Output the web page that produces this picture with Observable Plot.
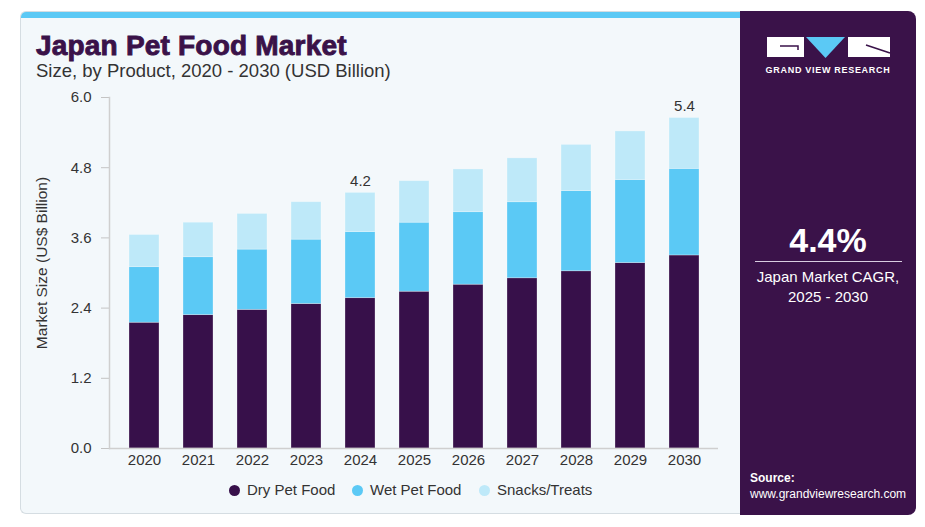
<!DOCTYPE html>
<html><head><meta charset="utf-8">
<script src="https://cdn.jsdelivr.net/npm/d3@7"></script>
<script src="https://cdn.jsdelivr.net/npm/@observablehq/plot@0.6"></script>
<style>
html,body{margin:0;padding:0;background:#fff;width:925px;height:527px;overflow:hidden;font-family:"Liberation Sans",Arial,sans-serif;}
#card{position:absolute;left:20px;top:11px;width:720px;height:503px;background:#f3f8fb;border:1px solid #d5dde2;border-right:none;border-radius:6px 0 0 6px;box-sizing:border-box;overflow:hidden;}
#strip{position:absolute;left:0;top:0;width:100%;height:6px;background:#5bc9f5;}
#side{position:absolute;left:740px;top:11px;width:176px;height:504px;background:#3a1249;border-radius:0 8px 8px 0;color:#fff;}
#title{position:absolute;left:36px;top:30px;font-size:28px;font-weight:700;color:#3a1249;-webkit-text-stroke:0.9px #3a1249;letter-spacing:0.2px;}
#subtitle{position:absolute;left:36px;top:60px;font-size:18.5px;color:#333;}
#chart{position:absolute;left:20px;top:85px;}
#legend{position:absolute;left:0;top:481px;width:925px;font-size:15px;color:#333;}
.li{position:absolute;top:0;white-space:nowrap;}
.dot{display:inline-block;width:11px;height:11px;border-radius:50%;margin-right:7px;vertical-align:-1px;}
#ylab{position:absolute;left:42px;top:263px;transform:translate(-50%,-50%) rotate(-90deg);font-size:15.5px;color:#333;white-space:nowrap;}
</style></head>
<body>
<div id="card"><div id="strip"></div></div>
<div id="side">
  <svg width="176" height="80" style="position:absolute;left:0;top:0">
    <path d="M27 26 H64 V46 H27 Z" fill="#fff" stroke="none"/>
    <path d="M40 35 H58 V39" fill="none" stroke="#3a1249" stroke-width="1.5"/>
    <path d="M66 26 H105 L85.5 47 Z" fill="#5bc9f5"/>
    <path d="M108 26 H150 V46 H108 Z" fill="#fff"/>
    <path d="M126 34 L150 42" fill="none" stroke="#3a1249" stroke-width="1.5"/>
    <text x="88" y="62" text-anchor="middle" fill="#fff" font-size="9" font-weight="700" letter-spacing="0.7" font-family="'Liberation Sans',sans-serif">GRAND VIEW RESEARCH</text>
  </svg>
  <div style="position:absolute;left:0;width:176px;top:210px;text-align:center;font-size:34px;font-weight:700;">4.4%</div>
  <div style="position:absolute;left:15px;width:147px;top:250px;height:1px;background:#d8cde0;"></div>
  <div style="position:absolute;left:0;width:176px;top:256px;text-align:center;font-size:15px;line-height:20px;">Japan Market CAGR,<br>2025 - 2030</div>
  <div style="position:absolute;left:10px;top:460px;font-size:12px;font-weight:700;">Source:</div>
  <div style="position:absolute;left:10px;top:476px;font-size:12px;">www.grandviewresearch.com</div>
</div>
<div id="title">Japan Pet Food Market</div>
<div id="subtitle">Size, by Product, 2020 - 2030 (USD Billion)</div>
<div id="ylab">Market Size (US$ Billion)</div>
<div id="chart"></div>
<div id="legend"></div>
<script>
const years = ["2020","2021","2022","2023","2024","2025","2026","2027","2028","2029","2030"];
const dryPetFood = [2.15,2.28,2.37,2.47,2.57,2.68,2.80,2.91,3.03,3.17,3.30];
const wetPetFood = [0.95,0.99,1.03,1.10,1.13,1.18,1.24,1.30,1.37,1.42,1.48];
const snacksTreats = [0.55,0.59,0.61,0.64,0.67,0.71,0.73,0.75,0.79,0.83,0.87];
const segments = ["Dry Pet Food","Wet Pet Food","Snacks/Treats"];
const colors = ["#37104a","#5bc9f5","#bee9f9"];
const yTicks = [0,1.2,2.4,3.6,4.8,6.0];
const labelYears = ["2024","2030"];
const labelTexts = ["4.2","5.4"];

const series = [dryPetFood, wetPetFood, snacksTreats];
const rows = [];
years.forEach((y,i)=>segments.forEach((s,j)=>rows.push({year:y, segment:s, value:series[j][i]})));
const totals = years.map((y,i)=>dryPetFood[i]+wetPetFood[i]+snacksTreats[i]);
const labels = labelYears.map((y,k)=>({year:y, total:totals[years.indexOf(y)], text:labelTexts[k]}));

const plot = Plot.plot({
  width:720, height:385,
  marginLeft:89, marginRight:22, marginTop:12, marginBottom:22,
  style:{background:"transparent", fontFamily:"'Liberation Sans', Arial, sans-serif", fontSize:"15px", color:"#333"},
  x:{domain:years, paddingInner:0.45, paddingOuter:0.32, label:null, tickSize:0, tickPadding:6},
  y:{domain:[0,6], ticks:yTicks, tickFormat:d=>d.toFixed(1), label:null, tickSize:8, tickPadding:10},
  color:{domain:segments, range:colors},
  marks:[
    Plot.barY(rows, Plot.stackY({x:"year", y:"value", fill:"segment", order:segments, stroke:"#ffffff", strokeOpacity:0.35, strokeWidth:0.8})),
    Plot.ruleY([0], {stroke:"#cfcfcf", strokeWidth:1.5}),
    Plot.axisY({ticks:yTicks, tickFormat:d=>d.toFixed(1), stroke:"#c4c4c4", tickSize:8, tickPadding:10, fontSize:15, label:null}),
    Plot.frame({anchor:"left", stroke:"#cfcfcf", strokeWidth:1.5}),
    Plot.text(labels, {x:"year", y:"total", text:"text", dy:-12, fontSize:15, fill:"#333"})
  ]
});
document.getElementById("chart").appendChild(plot);

const leg = document.getElementById("legend");
const lx = [229, 352, 479];
segments.forEach((s,j)=>{
  const d = document.createElement("div");
  d.className="li"; d.style.left = lx[j]+"px";
  d.innerHTML = `<span class="dot" style="background:${colors[j]}"></span>${s}`;
  leg.appendChild(d);
});
</script>
</body></html>
